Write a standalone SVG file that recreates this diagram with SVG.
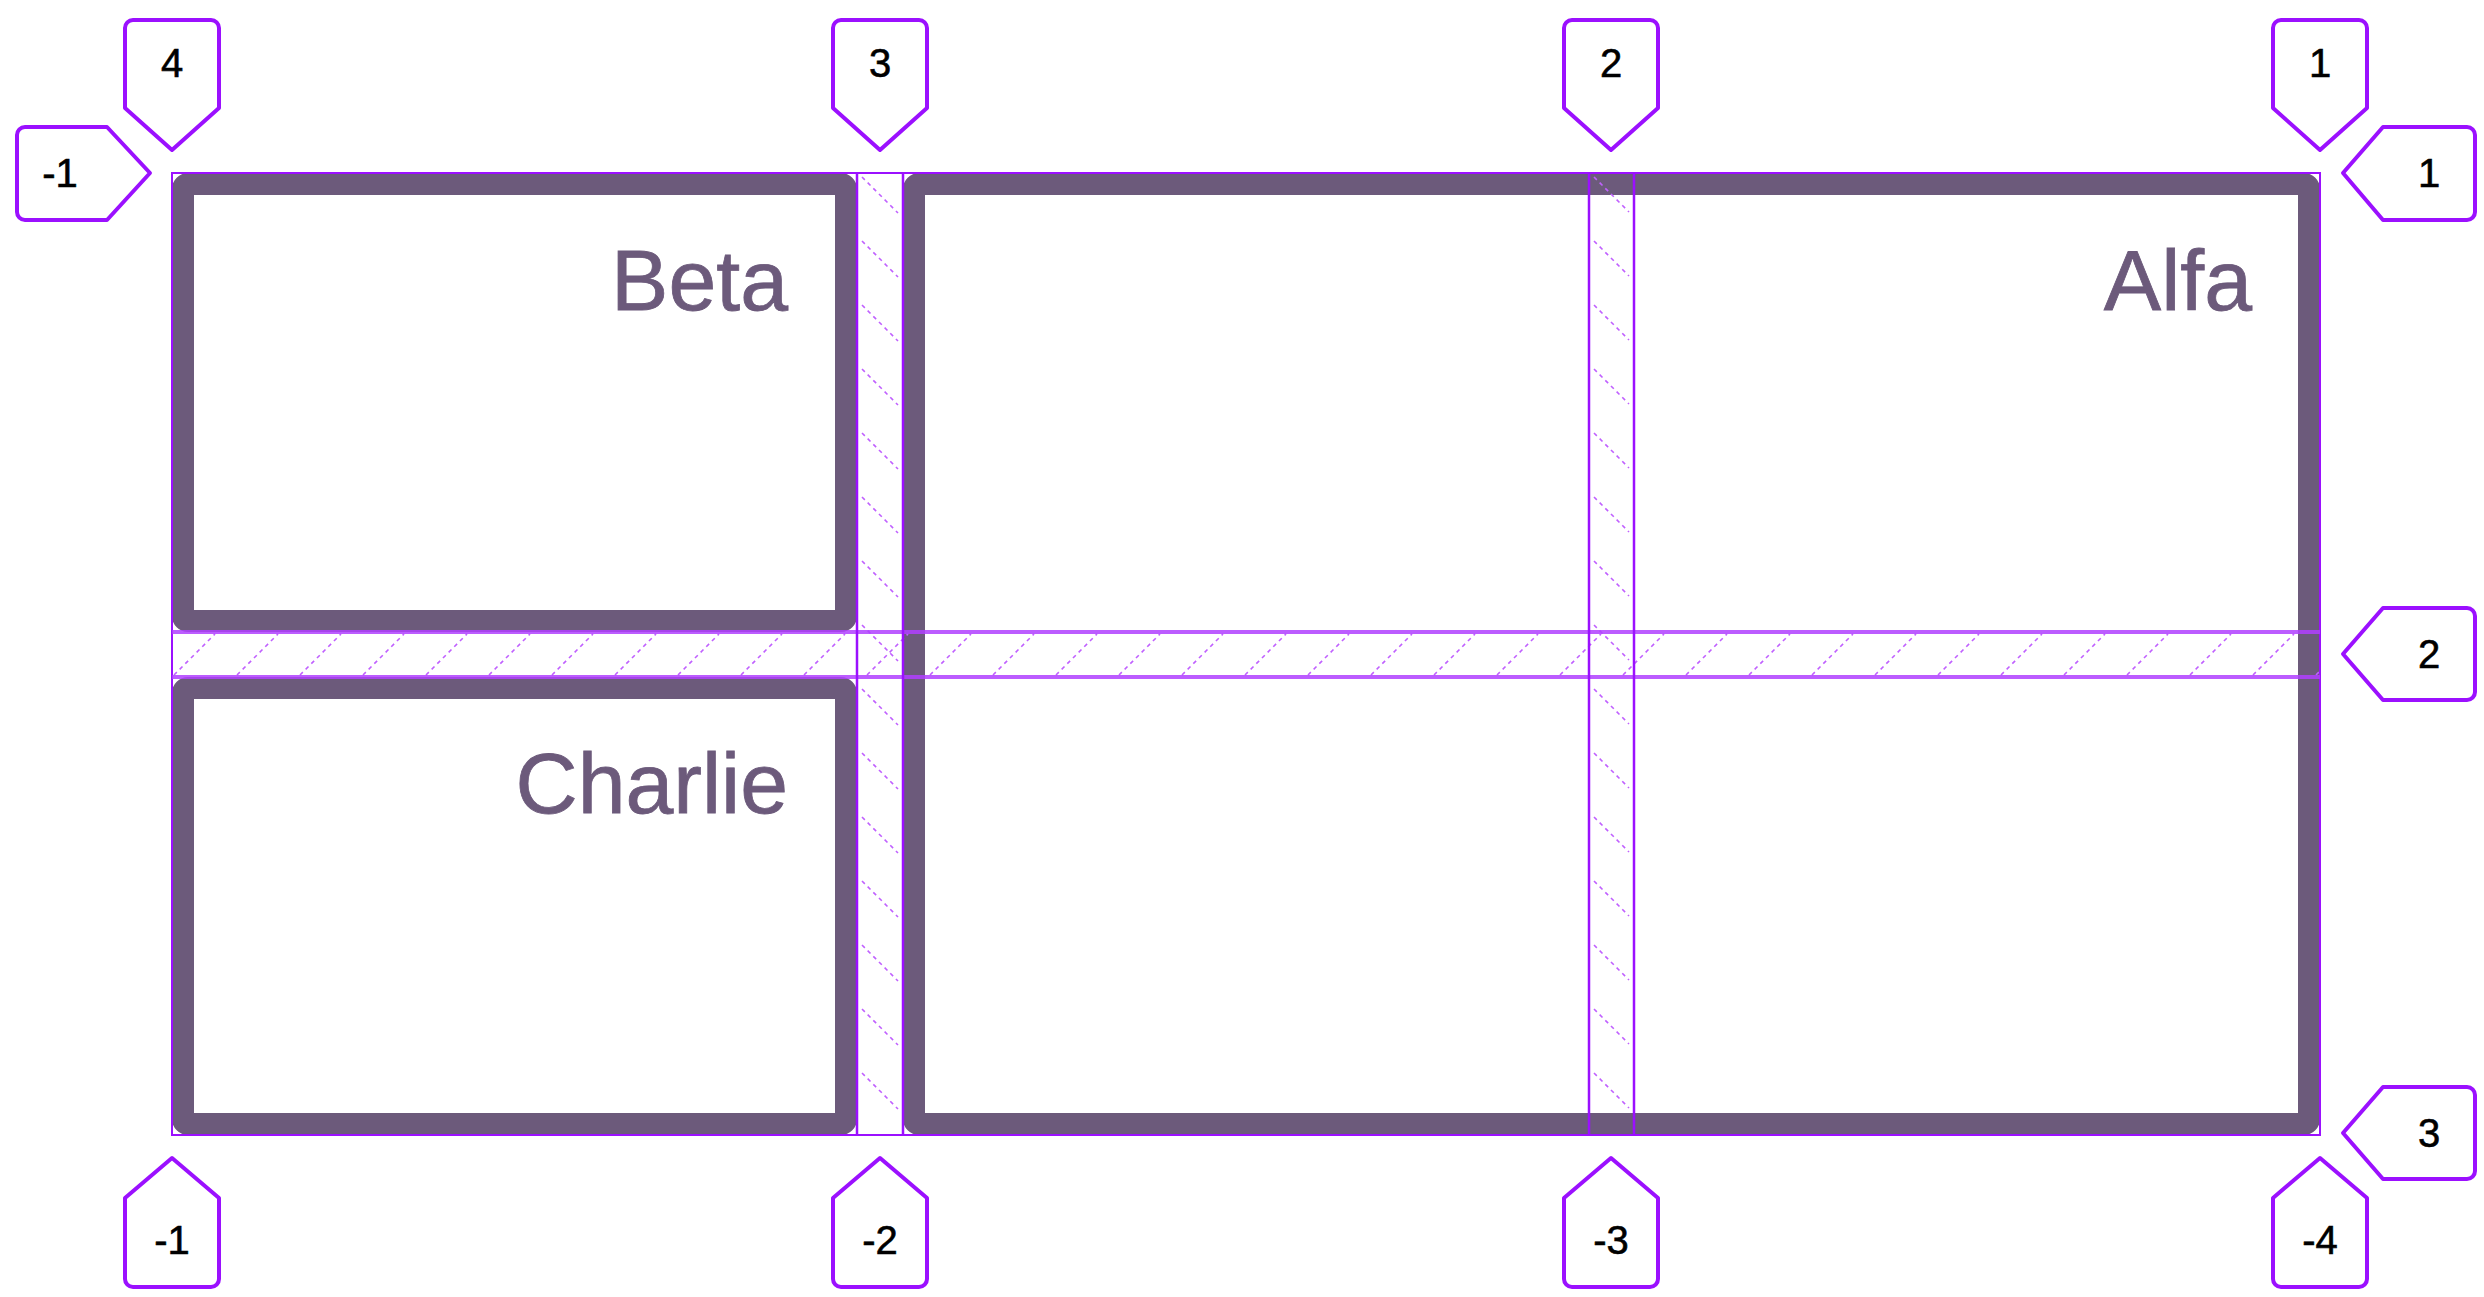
<svg xmlns="http://www.w3.org/2000/svg" width="2484" height="1297" viewBox="0 0 2484 1297">
<style>
.box{fill:none;stroke:#6c5a7b;stroke-width:22;stroke-linejoin:round}
.name{font-family:"Liberation Sans",Arial,sans-serif;font-size:86px;fill:#6c5a7b;stroke:#6c5a7b;stroke-width:0.8;text-anchor:end}
.lbl{fill:#fff;stroke:#9b10ff;stroke-width:4;stroke-linejoin:round}
.num{font-family:"Liberation Sans",Arial,sans-serif;font-size:40px;fill:#000;stroke:#000;stroke-width:0.6;text-anchor:middle}
.edge{stroke:#9b10ff;stroke-width:2;fill:none}
.rowline{stroke:#b040ff;stroke-width:4;fill:none;opacity:0.85}
.colline{stroke:#9b10ff;stroke-width:2.5;fill:none}
.hatch{stroke:#c060ff;stroke-width:1.6;stroke-dasharray:4 4;fill:none}
</style>
<defs>
<pattern id="colHatch" patternUnits="userSpaceOnUse" x="857" y="173" width="46" height="64">
<line class="hatch" x1="5" y1="4" x2="41" y2="40"/>
</pattern>
<pattern id="colHatch2" patternUnits="userSpaceOnUse" x="1589" y="173" width="45" height="64">
<line class="hatch" x1="5" y1="4" x2="40" y2="39"/>
</pattern>
<pattern id="rowHatch" patternUnits="userSpaceOnUse" x="172" y="632" width="63" height="45">
<line class="hatch" x1="2" y1="43" x2="43" y2="2"/>
</pattern>
</defs>
<rect width="2484" height="1297" fill="#fff"/>
<g id="beta">
<rect class="box" x="183" y="184" width="663" height="437" rx="5"/>
<text class="name" x="788" y="310">Beta</text>
</g>
<g id="charlie">
<rect class="box" x="183" y="688" width="663" height="436" rx="5"/>
<text class="name" x="788" y="813">Charlie</text>
</g>
<g id="alfa">
<rect class="box" x="914" y="184" width="1395" height="940" rx="5"/>
<text class="name" x="2252" y="310">Alfa</text>
</g>
<g id="grid-overlay">
<rect x="857" y="173" width="46" height="962" fill="url(#colHatch)"/>
<rect x="1589" y="173" width="45" height="962" fill="url(#colHatch2)"/>
<rect x="172" y="632" width="2148" height="45" fill="url(#rowHatch)"/>
<rect class="edge" x="172" y="173" width="2148" height="962"/>
<path class="rowline" d="M172,632H2320M172,677H2320"/>
<path class="colline" d="M857,173V1135M903,173V1135M1589,173V1135M1634,173V1135"/>
</g>
<g id="label-top-4"><path class="lbl" d="M125,28a8,8 0 0 1 8,-8H211a8,8 0 0 1 8,8V108L172,150L125,108Z"/><text class="num" x="172" y="77">4</text></g>
<g id="label-top-3"><path class="lbl" d="M833,28a8,8 0 0 1 8,-8H919a8,8 0 0 1 8,8V108L880,150L833,108Z"/><text class="num" x="880" y="77">3</text></g>
<g id="label-top-2"><path class="lbl" d="M1564,28a8,8 0 0 1 8,-8H1650a8,8 0 0 1 8,8V108L1611,150L1564,108Z"/><text class="num" x="1611" y="77">2</text></g>
<g id="label-top-1"><path class="lbl" d="M2273,28a8,8 0 0 1 8,-8H2359a8,8 0 0 1 8,8V108L2320,150L2273,108Z"/><text class="num" x="2320" y="77">1</text></g>
<g id="label-left-m1"><path class="lbl" d="M150,173L107,220H25a8,8 0 0 1 -8,-8V135a8,8 0 0 1 8,-8H107Z"/><text class="num" x="60" y="187">-1</text></g>
<g id="label-right-1"><path class="lbl" d="M2343,173L2383,127H2467a8,8 0 0 1 8,8V212a8,8 0 0 1 -8,8H2383Z"/><text class="num" x="2429" y="187">1</text></g>
<g id="label-right-2"><path class="lbl" d="M2343,654L2383,608H2467a8,8 0 0 1 8,8V692a8,8 0 0 1 -8,8H2383Z"/><text class="num" x="2429" y="668">2</text></g>
<g id="label-right-3"><path class="lbl" d="M2343,1133L2383,1087H2467a8,8 0 0 1 8,8V1171a8,8 0 0 1 -8,8H2383Z"/><text class="num" x="2429" y="1147">3</text></g>
<g id="label-bottom-m1"><path class="lbl" d="M172,1158L219,1198V1279a8,8 0 0 1 -8,8H133a8,8 0 0 1 -8,-8V1198Z"/><text class="num" x="172" y="1254">-1</text></g>
<g id="label-bottom-m2"><path class="lbl" d="M880,1158L927,1198V1279a8,8 0 0 1 -8,8H841a8,8 0 0 1 -8,-8V1198Z"/><text class="num" x="880" y="1254">-2</text></g>
<g id="label-bottom-m3"><path class="lbl" d="M1611,1158L1658,1198V1279a8,8 0 0 1 -8,8H1572a8,8 0 0 1 -8,-8V1198Z"/><text class="num" x="1611" y="1254">-3</text></g>
<g id="label-bottom-m4"><path class="lbl" d="M2320,1158L2367,1198V1279a8,8 0 0 1 -8,8H2281a8,8 0 0 1 -8,-8V1198Z"/><text class="num" x="2320" y="1254">-4</text></g>
</svg>
